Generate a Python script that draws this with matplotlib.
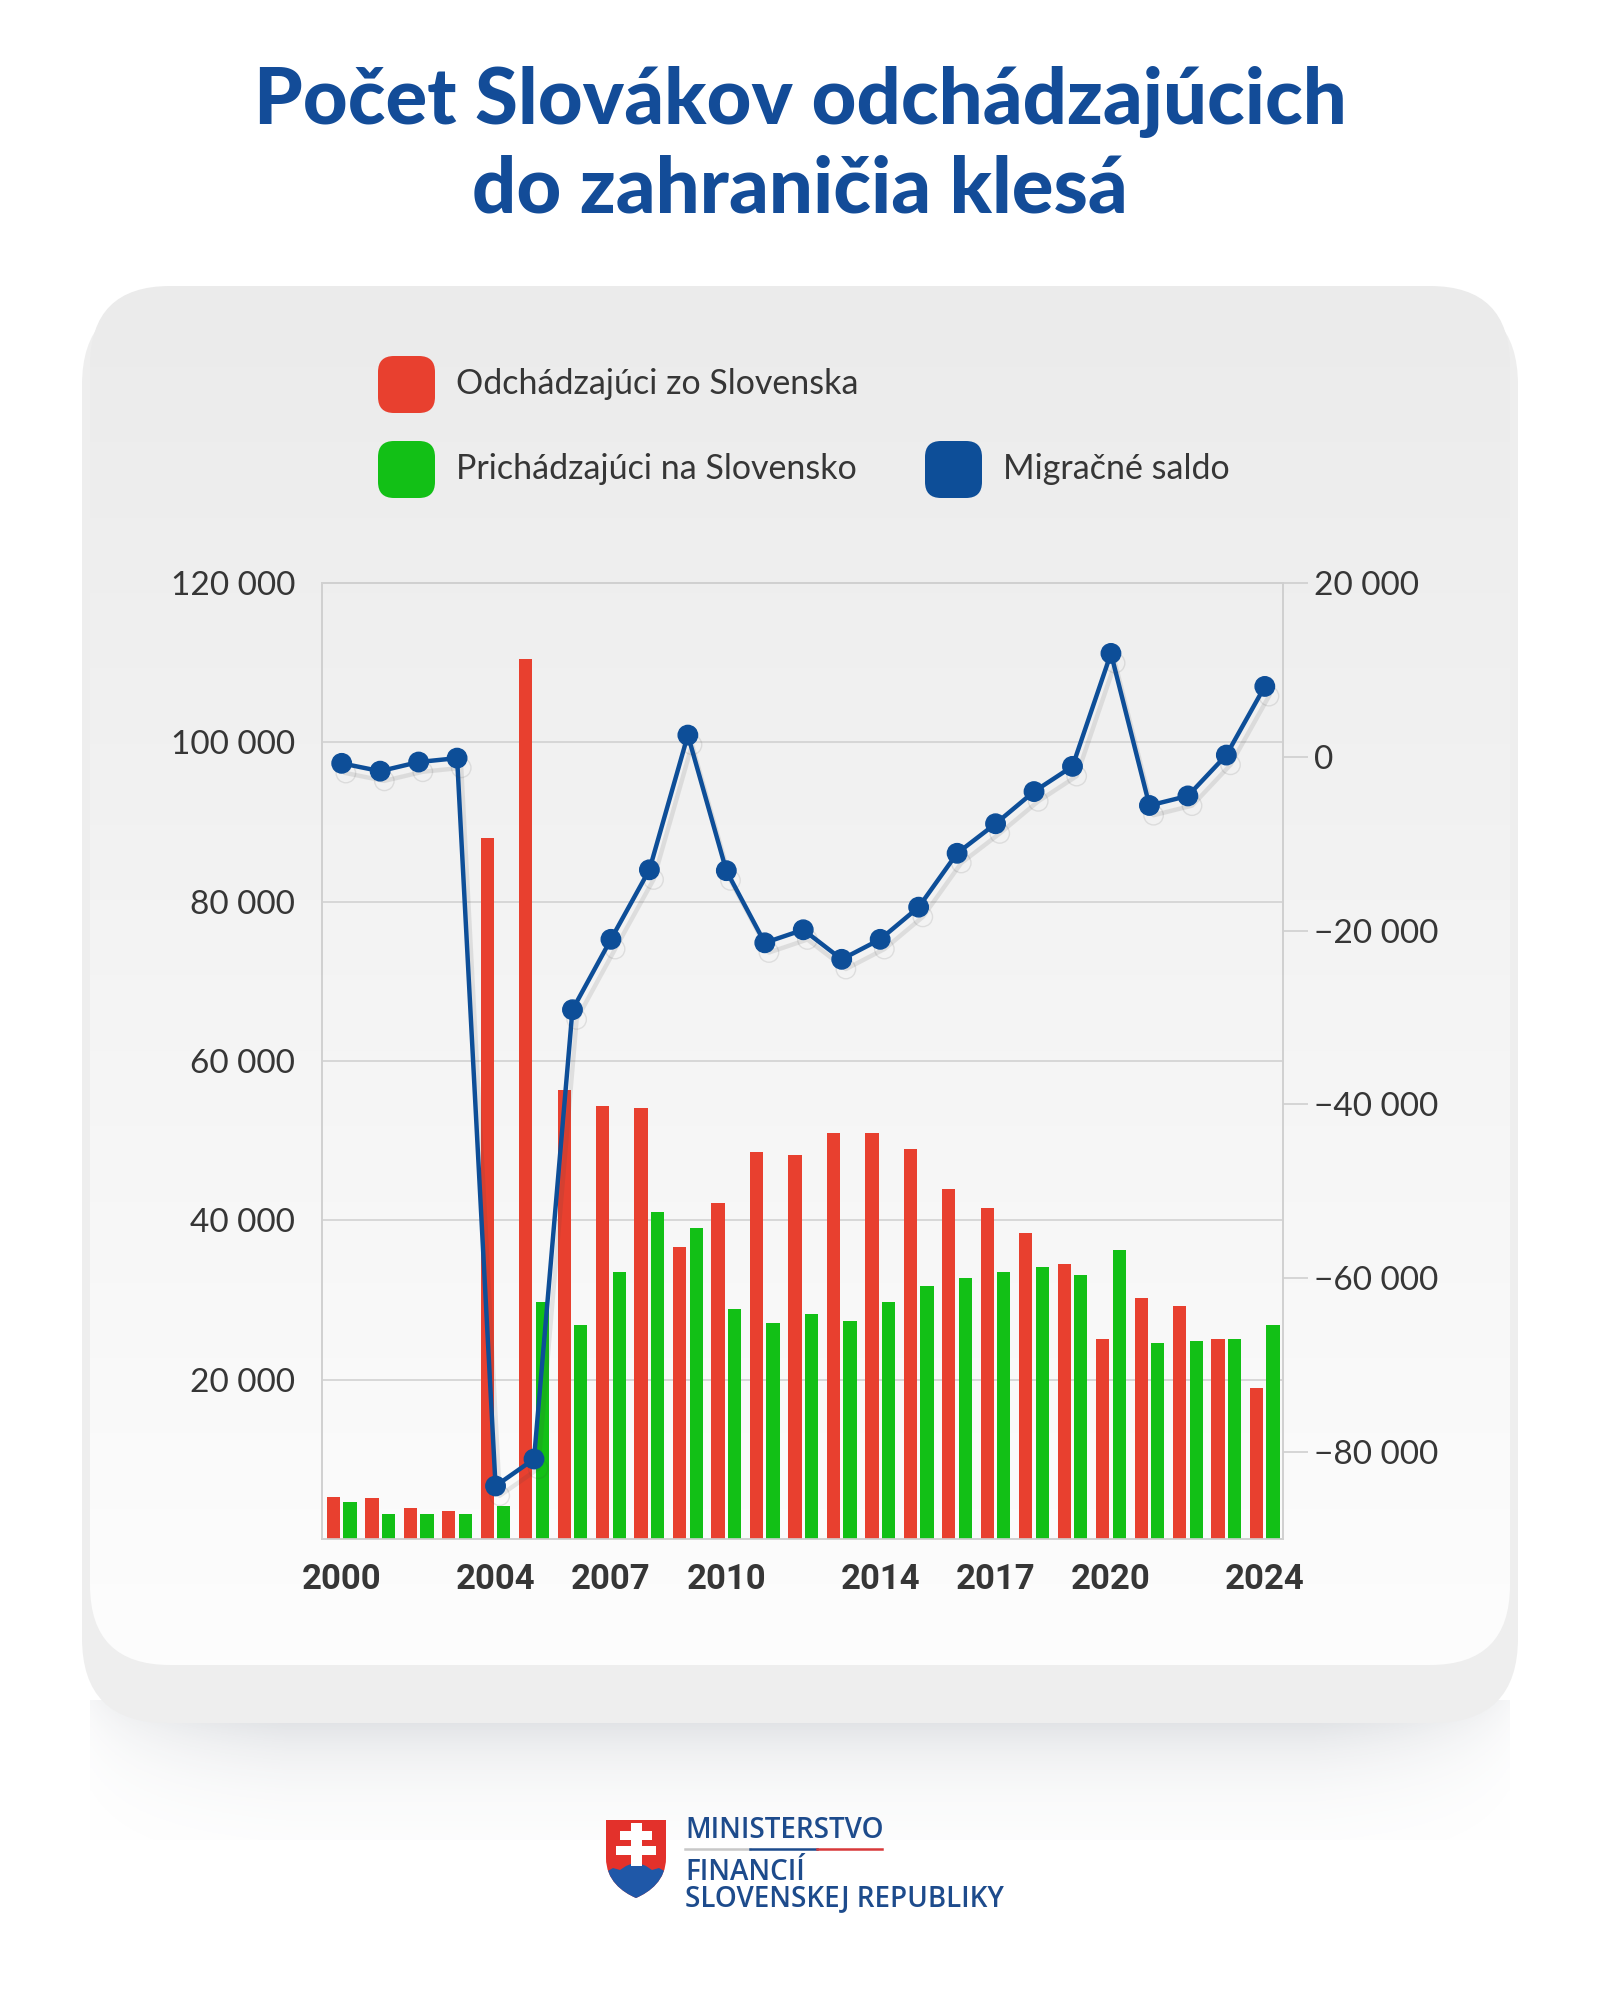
import matplotlib.pyplot as plt
import numpy as np
import matplotlib.patheffects as pe
from matplotlib.patches import FancyBboxPatch, PathPatch, Rectangle
from matplotlib.path import Path
from matplotlib.colors import LinearSegmentedColormap
from matplotlib.ticker import FuncFormatter

# data
years = list(range(2000, 2025))
odchadzajuci = [5300, 5100, 3900, 3500, 88000, 110400, 56300, 54400, 54100, 36700,
                42200, 48600, 48200, 51000, 51000, 49000, 43900, 41500, 38400, 34500,
                25100, 30300, 29300, 25100, 19000]
prichadzajuci = [4600, 3200, 3200, 3200, 4100, 29800, 26900, 33500, 41100, 39000,
                 28900, 27100, 28200, 27400, 29700, 31800, 32800, 33500, 34200, 33200,
                 36300, 24600, 24800, 25100, 26900]
saldo = [-750, -1650, -600, -150, -83900, -80800, -29100, -21000, -13000, 2500,
         -13100, -21400, -19900, -23300, -21000, -17300, -11100, -7700, -4000, -1100,
         11900, -5600, -4500, 200, 8100]
shown_years = [2000, 2004, 2007, 2010, 2014, 2017, 2020, 2024]
legend_labels = ['Odchádzajúci zo Slovenska', 'Prichádzajúci na Slovensko', 'Migračné saldo']

RED = '#e8402f'
GREEN = '#12c016'
BLUE = '#0d4e98'
TITLE_BLUE = '#134c98'
TXT = '#363636'

fig = plt.figure(figsize=(16, 20), dpi=100)
fig.patch.set_facecolor('white')

# background layer in pixel coordinates
bg = fig.add_axes([0, 0, 1, 1])
bg.axis('off')

# soft shadow under the card
h, w = 120, 400
yy = np.linspace(0, 1, h).reshape(-1, 1)
xx = np.linspace(-1, 1, w).reshape(1, -1)
alpha = np.exp(-3.0 * yy) * np.clip(1.2 - np.abs(xx) ** 5, 0, 1) * 0.42
shadow = np.zeros((h, w, 4))
shadow[..., 0] = 0.55
shadow[..., 1] = 0.58
shadow[..., 2] = 0.62
shadow[..., 3] = alpha
bg.imshow(shadow, extent=[90, 1510, 1840, 1700], aspect='auto', zorder=1)

base = FancyBboxPatch((82, 300), 1436, 1423, boxstyle='round,pad=0,rounding_size=85',
                      fc='#eeeeee', ec='none', zorder=2)
bg.add_patch(base)
card = FancyBboxPatch((90, 286), 1420, 1379, boxstyle='round,pad=0,rounding_size=80',
                      fc='none', ec='none', zorder=3)
bg.add_patch(card)
cmap = LinearSegmentedColormap.from_list('card', ['#ebebeb', '#fdfdfd'])
im = bg.imshow(np.linspace(0, 1, 256).reshape(-1, 1), cmap=cmap,
               extent=[90, 1510, 1665, 286], aspect='auto', zorder=3)
im.set_clip_path(card)

# title
bg.text(800, 102, 'Počet Slovákov odchádzajúcich', ha='center', va='center',
        fontsize=56, fontweight='black', family='Lato', color=TITLE_BLUE, zorder=5)
bg.text(800, 190, 'do zahraničia klesá', ha='center', va='center',
        fontsize=56, fontweight='black', family='Lato', color=TITLE_BLUE, zorder=5)

# legend drawn by hand
leg = [(378, 384, RED, legend_labels[0]),
       (378, 469, GREEN, legend_labels[1]),
       (925, 469, BLUE, legend_labels[2])]
for x0, yc, col, lab in leg:
    bg.add_patch(FancyBboxPatch((x0, yc - 28), 57, 57, boxstyle='round,pad=0,rounding_size=16',
                                fc=col, ec='none', zorder=5))
    bg.text(x0 + 78, yc, lab, ha='left', va='center', fontsize=24.5, family='Lato',
            color=TXT, zorder=5)

# logo: shield
shield = Path([(606, 1820), (666, 1820), (666, 1858), (666, 1880), (650, 1892), (636, 1898),
               (622, 1892), (606, 1880), (606, 1858), (606, 1820)],
              [Path.MOVETO, Path.LINETO, Path.LINETO, Path.CURVE4, Path.CURVE4, Path.CURVE4,
               Path.CURVE4, Path.CURVE4, Path.CURVE4, Path.CLOSEPOLY])
sp = PathPatch(shield, fc='#e3312b', ec='none', zorder=5)
bg.add_patch(sp)
hills = Path([(600, 1876), (606, 1872), (613, 1868), (620, 1870), (626, 1866), (631, 1864),
              (636, 1863), (641, 1864), (646, 1866), (652, 1870), (659, 1868), (666, 1872),
              (672, 1876), (672, 1905), (600, 1905), (600, 1876)],
             [Path.MOVETO] + [Path.LINETO] * 14 + [Path.CLOSEPOLY])
hp = PathPatch(hills, fc='#1f58a8', ec='none', zorder=6)
bg.add_patch(hp)
hp.set_clip_path(sp)
for rx, ry, rw, rh in [(630.5, 1823, 11, 43), (620, 1831, 32, 9), (616, 1846, 40, 9)]:
    bg.add_patch(Rectangle((rx, ry), rw, rh, fc='white', ec='none', zorder=7))

LOGO = '#1d4b8c'
bg.text(685, 1831, 'MINISTERSTVO', ha='left', va='center', fontsize=20, family='Open Sans',
        fontweight='semibold', color=LOGO, zorder=5)
bg.plot([685, 750], [1849, 1849], color='#c8c8c8', lw=1.8, zorder=5)
bg.plot([750, 817], [1849, 1849], color='#1d4b8c', lw=1.8, zorder=5)
bg.plot([817, 882], [1849, 1849], color='#d8393a', lw=1.8, zorder=5)
bg.text(685, 1873, 'FINANCIÍ', ha='left', va='center', fontsize=20, family='Open Sans',
        fontweight='semibold', color=LOGO, zorder=5)
bg.text(685, 1899, 'SLOVENSKEJ REPUBLIKY', ha='left', va='center', fontsize=20,
        family='Open Sans', fontweight='semibold', color=LOGO, zorder=5)

bg.set_xlim(0, 1600)
bg.set_ylim(2000, 0)

# main chart
ax = fig.add_axes([321.7 / 1600, 1 - 1539 / 2000, 960.8 / 1600, 956 / 2000])
ax.set_facecolor('none')
x = np.arange(len(years))
bw = 0.345
ax.bar(x - 0.215, odchadzajuci, width=bw, color=RED, zorder=3)
ax.bar(x + 0.215, prichadzajuci, width=bw, color=GREEN, zorder=3)
ax.set_xlim(-0.52, 24.46)
ax.set_ylim(0, 120000)
ax.set_yticks(range(20000, 120001, 20000))
ax.yaxis.set_major_formatter(FuncFormatter(lambda v, p: f'{int(v):,}'.replace(',', ' ')))
ax.grid(axis='y', color='#cfcfcf', lw=1.1)
ax.set_axisbelow(True)
ax.set_xticks([years.index(y) for y in shown_years])
ax.set_xticklabels([str(y) for y in shown_years])
ax.tick_params(axis='x', length=0, pad=17, labelsize=25, labelcolor=TXT)
ax.tick_params(axis='y', length=0, pad=19, labelsize=24, labelcolor=TXT)
for lab in ax.get_xticklabels():
    lab.set_family('Roboto')
    lab.set_fontweight('bold')
for lab in ax.get_yticklabels():
    lab.set_family('Lato')
for s in ax.spines.values():
    s.set_color('#d0d0d0')
    s.set_linewidth(1.2)

ax2 = ax.twinx()
ax2.plot(x, saldo, color=BLUE, lw=3.2, marker='o', markersize=14, zorder=5,
         path_effects=[pe.SimpleLineShadow(offset=(3, -7), shadow_color='#444444', alpha=0.12),
                       pe.Normal()])
ax2.set_ylim(-90000, 20000)
ax2.set_yticks(range(-80000, 20001, 20000))
ax2.yaxis.set_major_formatter(
    FuncFormatter(lambda v, p: f'{int(v):,}'.replace(',', ' ').replace('-', '\u2212')))
ax2.tick_params(axis='y', length=18, width=1.1, color='#cccccc', pad=5,
                labelsize=24, labelcolor=TXT)
for lab in ax2.get_yticklabels():
    lab.set_family('Lato')
for s in ax2.spines.values():
    s.set_color('#d0d0d0')
    s.set_linewidth(1.2)

fig.savefig('out.png', dpi=100)
